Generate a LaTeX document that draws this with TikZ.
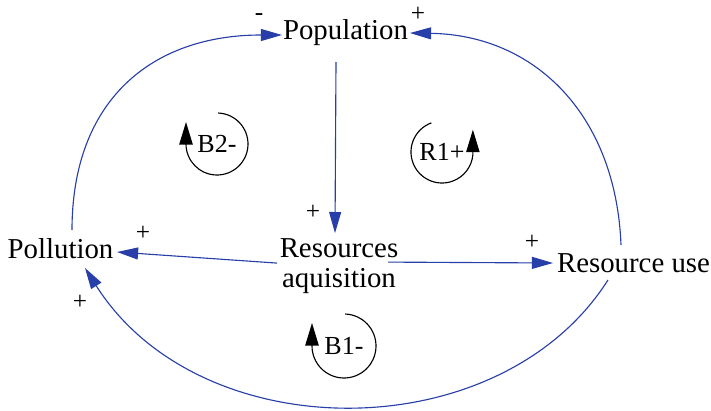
\documentclass[tikz,border=0pt]{standalone}
\usepackage{fontspec}
\setmainfont{Liberation Serif}
\newfontfamily\diagfont{Liberation Serif}
\usepackage{tikz}
\usetikzlibrary{arrows.meta}
\definecolor{linkblue}{RGB}{40,62,168}
\tikzset{
  var/.style={inner sep=0pt, anchor=base,
    font=\diagfont\fontsize{20.5}{22}\selectfont},
  looplabel/.style={inner sep=0pt, font=\diagfont\fontsize{18.5}{20}\selectfont},
  sign/.style={inner sep=0pt, font=\diagfont\fontsize{18}{20}\selectfont},
  link/.style={-{Triangle[length=15pt, width=8.5pt]}, line width=0.8pt, color=linkblue},
  loopmark/.style={-{Triangle[length=16pt, width=9.5pt]}, line width=0.8pt, color=black}
}

\begin{document}
\begin{tikzpicture}[x=0.025cm, y=0.025cm]
  \useasboundingbox (0,0) rectangle (711,410);

  % Variables
  \node[var] (pop) at (345.5,371) {Population};
  \node[var] (pol) at (60.5,152) {Pollution};
  \node[var] (use) at (633.5,138) {Resource use};
  \node[var, anchor=center, align=center] (acq) at (339,143.9) {Resources\\aquisition};

  % Straight links
  \draw[link] ([shift={(-9.5,-23)}]pop.base) -- ([shift={(-4,33)}]acq.center);
  \draw[link] ([shift={(-62,3)}]acq.center) -- ([shift={(56.5,6)}]pol.base);
  \draw[link] ([shift={(49,4)}]acq.center) -- ([shift={(-80.5,9)}]use.base);

  % Curved links
  \draw[link] ([shift={(11.5,28)}]pol.base) .. controls +(0,130) and +(-130,0) .. ([shift={(-63.5,4)}]pop.base);
  \draw[link] ([shift={(-12.5,27)}]use.base) .. controls +(-5,130) and +(125,-2) .. ([shift={(64.5,6)}]pop.base);
  \draw[link] ([shift={(-25.5,-8)}]use.base) .. controls +(-108,-170) and +(115,-182) .. ([shift={(24.5,-10)}]pol.base);

  % Polarities
  \node[sign] (s1) at (259,393) {-};
  \node[sign] (s2) at (418,396) {+};
  \node[sign] (s3) at (313,198) {+};
  \node[sign] (s4) at (143,177) {+};
  \node[sign] (s5) at (80,108) {+};
  \node[sign] (s6) at (532,168) {+};

  % Loops
  \node[looplabel] (b2) at (217,266) {B2-};
  \draw[loopmark] ([shift={(88:31)}]b2.center) arc[start angle=88, end angle=-180, radius=31] -- ++(0,22);
  \node[looplabel] (r1) at (442,258) {R1+};
  \draw[loopmark] ([shift={(110:31)}]r1.center) arc[start angle=110, end angle=355, radius=31] -- ++(0,25);
  \node[looplabel] (b1) at (344,64) {B1-};
  \draw[loopmark] ([shift={(88:32)}]b1.center) arc[start angle=88, end angle=-180, radius=32] -- ++(0,23);
\end{tikzpicture}
\end{document}
